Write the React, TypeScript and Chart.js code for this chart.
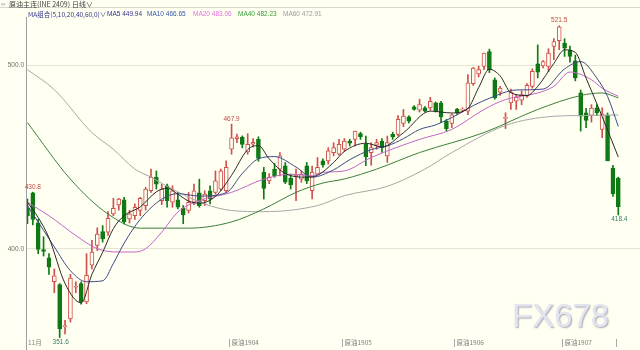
import React, { useEffect, useRef } from 'react';
import { Chart, registerables } from 'chart.js';

Chart.register(...registerables);

const BG = '#fffff2';
const UP = '#d0504c';
const DOWN = '#0f7a14';

// candle data (index 0..110)
const candleOpen = [
  422.2, 430.4, 414.1, 399.5, 395, 382, 380.5, 357.5, 361.7, 379,
  381, 371, 391, 401.8, 409.4, 409, 419, 423.9, 426.7, 416.3,
  418, 420.8, 423.5, 431.6, 438.9, 426.2, 434.3, 425.3, 426.7, 422,
  420.8, 425.3, 430.4, 426.2, 431.6, 430.7, 432.5, 431.6, 454.2, 460,
  460.9, 452.7, 457, 459.6, 441.6, 437, 443.4, 443.4, 445.2, 438.3,
  439.2, 437.9, 445.2, 431.6, 440.6, 447.9, 447.9, 452.4, 451.5, 454.2,
  458.7, 459.6, 462.7, 456.9, 452.4, 456.4, 458.7, 450.6, 462.3, 462.3,
  468.3, 471.9, 477.3, 475.5, 476.8, 476.8, 479.5, 479.5, 469.5, 468.3,
  476, 475.5, 475, 490, 495.3, 499.4, 507.5, 492.1, 485.3, 471,
  479.5, 480.4, 481, 483.1, 488.5, 500.8, 499.7, 499.4, 510.2, 513.4,
  512.1, 508.3, 502.4, 485, 474.1, 472.6, 476.8, 465, 472.7, 443.9, 438.5,
];
const candleHigh = [
  427.1, 430.8, 416, 406.5, 397.3, 389, 381, 361, 386, 382,
  382, 397.3, 404.5, 411.4, 412.6, 420.2, 427.5, 427.5, 428, 421,
  424.5, 428, 433.5, 443.4, 442.4, 435.2, 435.2, 434.3, 430.7, 423.5,
  430.7, 435.2, 437.9, 431.6, 434.3, 442.4, 443.4, 447.9, 467.9, 462.5,
  461.5, 462.7, 460, 461, 444.3, 441, 446.5, 452.4, 447, 440.6,
  443.4, 442.4, 447, 445, 449.7, 449, 455.1, 457.8, 459.6, 460,
  459.6, 464.1, 463.5, 461.4, 457.8, 459.6, 460, 461.4, 463.5, 472.5,
  475.9, 472.5, 478, 481.5, 477.5, 482.5, 480, 480.4, 470.5, 473.5,
  476.5, 476.8, 494.9, 498.8, 499.4, 506.6, 508.8, 493.1, 488.5, 474.1,
  487, 484, 486, 490, 498, 511.1, 502.5, 509, 514.5, 521.5,
  514.5, 510.5, 505.5, 486.5, 476.5, 478.5, 478.5, 476.8, 474, 445.5, 439,
];
const candleLow = [
  413.6, 413, 397.3, 396, 386, 376, 351.6, 353.5, 360, 376,
  369.7, 370, 389, 399, 403.6, 407.2, 418, 421, 413.5, 414,
  416, 418, 421, 430.7, 432.5, 424, 422.6, 422.6, 421.7, 413.6,
  419.5, 424, 422.6, 423.5, 424.4, 429.8, 431.6, 430.7, 451.5, 457.8,
  455, 451.5, 455.5, 447.7, 427.1, 435.5, 438.9, 439.7, 435.5, 432.5,
  426.2, 436.2, 435.5, 427.1, 440.6, 444.5, 446.1, 450.6, 451, 453,
  456, 456, 459.6, 445.2, 445.5, 454.2, 452.5, 447, 459.6, 461.5,
  466.5, 468.5, 475.5, 474.5, 474.5, 475.5, 474.5, 468.7, 464, 466,
  473, 474.5, 473, 489, 493.6, 497.6, 496, 481.5, 483.5, 465.5,
  475.9, 475.9, 478.5, 482.5, 487.5, 493.1, 498.5, 496.5, 503, 508.5,
  504.8, 501.7, 491.5, 464.1, 466, 469, 472.5, 460.5, 447.9, 428.5, 418.4,
];
const candleClose = [
  418, 415.9, 399.6, 398.5, 390, 385.2, 356.3, 358, 384, 379.5,
  371, 385.5, 398.2, 408, 405.4, 416.6, 422, 427.1, 414.8, 419,
  422.6, 427.5, 432.5, 438.9, 435.2, 432.5, 426.2, 431.6, 422.6, 418.4,
  425.3, 431.6, 423.5, 429.8, 427.1, 437, 442.4, 444.3, 460.5, 461,
  456.9, 456.9, 458, 449.2, 432.9, 438.9, 439.7, 450.6, 436.2, 434.7,
  440.1, 440.6, 437, 441.7, 444.3, 445.7, 453.3, 455.1, 456.9, 458.7,
  457.5, 464.1, 460.9, 450.2, 455.1, 457.8, 455.1, 457.8, 460.9, 470.5,
  472.3, 469.5, 475.9, 478.6, 475, 480.4, 475, 471.9, 465.4, 473,
  474.1, 475.9, 490.4, 498.5, 497.6, 506.6, 497.6, 482.2, 487.6, 471.4,
  485.3, 482.5, 484, 489, 496.7, 496.2, 502, 506.6, 512.9, 521,
  509.3, 504.8, 493.1, 472.2, 469.9, 476.7, 474.1, 473.5, 447.9, 429.8, 422.9,
];

// moving averages: [candle index, value]
const ma5 = [
  [0, 425.3], [2, 417], [4, 406], [7, 381], [10, 370.5], [12, 386], [14, 398], [16, 411],
  [18, 418], [21, 422.8], [24, 431], [26, 433], [28, 429.7], [30, 426], [32, 424.8],
  [35, 428.5], [38, 440], [41, 454], [43, 456.2], [45, 449], [48, 441], [52, 439],
  [54, 440], [57, 447], [59, 453], [63, 457.5], [66, 455.5], [70, 463.2], [75, 475],
  [79, 474], [82, 476.5], [84, 487.8], [86, 497.8], [88, 494.2], [90, 485], [93, 483.5],
  [95, 488.5], [98, 501], [100, 508.4], [102, 507], [104, 493], [107, 472], [110, 449.94],
];
const ma10 = [
  [0, 423.5], [3, 410], [5, 401], [8, 388], [11, 382], [14, 382.5], [16, 392], [18, 403],
  [21, 416], [25, 427], [28, 430], [32, 428.7], [37, 430.5], [40, 441], [43, 449],
  [46, 450.2], [50, 444.5], [53, 439], [57, 443], [60, 448.5], [64, 454], [67, 456],
  [70, 460], [73, 465], [76, 467.5], [80, 473], [83, 478], [86, 482], [91, 486.5],
  [96, 487], [100, 498], [103, 502], [106, 493], [108, 483], [110, 466.65],
];
const ma20 = [
  [0, 425.3], [4, 418], [9, 407.2], [13, 400], [17, 398.2], [20, 398.2], [22, 400],
  [25, 409], [28, 420], [32, 426.2], [38, 430.7], [44, 437.9], [49, 440.6], [53, 439.7],
  [55, 441.6], [59, 442.4], [64, 449.7], [73, 459.6], [79, 465], [85, 475.9], [89, 481.3],
  [95, 484.9], [98, 488.5], [101, 496.3], [105, 492.1], [107, 487.5], [110, 483.06],
];
const ma40 = [
  [0, 468.7], [8, 437.9], [15, 418.9], [21, 411.2], [30, 411.2], [38, 414.6], [44, 421.7],
  [50, 430.7], [55, 435.8], [59, 438], [65, 443.4], [73, 452.4], [85, 463.3], [95, 475.9],
  [103, 483.5], [107, 484.9], [110, 482.23],
];
const ma60 = [
  [0, 497.6], [5, 486.7], [12, 463.3], [16, 454.2], [20, 443.4], [23, 439], [26, 434],
  [33, 424.4], [38, 420.8], [44, 420.2], [54, 423.5], [59, 428.9], [67, 434], [74, 443.4],
  [79, 452.4], [89, 467.2], [98, 472.2], [103, 472.6], [110, 472.91],
];

const maNames = ['MA5', 'MA10', 'MA20', 'MA40', 'MA60'];
const maLast = ['449.94', '466.65', '483.06', '482.23', '472.91'];
const maLineColors = ['#2a2a2a', '#3d4a86', '#c266c8', '#3d7f3d', '#a8a8a8'];
const maTextColors = ['#34348a', '#3456a8', '#e070e0', '#3aa03a', '#9c9c9c'];

const yTickValues = [400, 500];
const monthStart = [38, 59, 80, 100, 110];
const monthLabels = ['原油1904', '原油1905', '原油1906', '原油1907', ''];
const highMarks = [1, 38, 99];
const lowMarks = [6, 110];

const FONT = '"Liberation Sans", "Noto Sans CJK SC", sans-serif';
const CJK = '"Noto Sans CJK SC", "Liberation Sans", sans-serif';

const decor = {
  id: 'decor',
  beforeDraw(chart: any) {
    const { ctx, width, height } = chart;
    ctx.save();
    ctx.fillStyle = BG;
    ctx.fillRect(0, 0, width, height);
    ctx.restore();
  },
  afterDraw(chart: any) {
    const { ctx, chartArea, scales } = chart;
    const xs = scales.x;
    const ys = scales.y;
    ctx.save();
    // header separator & axis line
    ctx.strokeStyle = '#d8d8cc';
    ctx.lineWidth = 1;
    ctx.beginPath();
    ctx.moveTo(0, 7.5);
    ctx.lineTo(640, 7.5);
    ctx.stroke();
    const ax = Math.round(chartArea.left) + 0.5;
    ctx.strokeStyle = '#a0a0a0';
    ctx.beginPath();
    ctx.moveTo(ax, 17);
    ctx.lineTo(ax, 350);
    ctx.stroke();

    // header row 1
    ctx.textBaseline = 'middle';
    ctx.textAlign = 'left';
    ctx.fillStyle = '#8a8aa0';
    ctx.font = `6px ${FONT}`;
    ctx.fillText('∞', 1, 4);
    ctx.fillStyle = '#404040';
    ctx.font = `7px ${CJK}`;
    ctx.fillText('原油主连(INE 2409)', 9, 4);
    ctx.fillText('日线∨', 72, 4);

    // header row 2 (MA legend)
    ctx.font = `6.5px ${CJK}`;
    ctx.fillStyle = '#34348a';
    ctx.fillText('MA组合(5,10,20,40,60,0)∨', 28, 14.5);
    const legX = [107, 147, 193, 238, 283];
    ctx.font = `6.5px ${FONT}`;
    maNames.forEach((n, k) => {
      ctx.fillStyle = maTextColors[k];
      ctx.fillText(`${n} ${maLast[k]}`, legX[k], 14.5);
    });

    // high / low marks
    ctx.font = `6.5px ${FONT}`;
    ctx.textAlign = 'center';
    ctx.textBaseline = 'bottom';
    ctx.fillStyle = '#c04a44';
    highMarks.forEach((i) => {
      const x = xs.getPixelForValue(i);
      const y = ys.getPixelForValue(candleHigh[i]);
      ctx.fillText(candleHigh[i].toFixed(1), x, y - 2);
    });
    ctx.textBaseline = 'top';
    ctx.fillStyle = '#3a7a6a';
    lowMarks.forEach((i) => {
      const x = xs.getPixelForValue(i);
      const y = ys.getPixelForValue(candleLow[i]);
      ctx.fillText(candleLow[i].toFixed(1), x + 1, y + 1);
    });

    // bottom month labels
    ctx.textAlign = 'left';
    ctx.textBaseline = 'middle';
    ctx.font = `6.5px ${CJK}`;
    ctx.fillStyle = '#808080';
    ctx.fillText('11月', 28, 343);
    ctx.strokeStyle = '#a8a8a8';
    monthStart.forEach((m, k) => {
      const x = Math.round(xs.getPixelForValue(m - 0.5)) + 0.5;
      ctx.beginPath();
      ctx.moveTo(x, 339);
      ctx.lineTo(x, 347);
      ctx.stroke();
      if (monthLabels[k]) ctx.fillText(monthLabels[k], x + 2, 343);
    });

    // watermark
    ctx.font = `33px ${FONT}`;
    ctx.textAlign = 'left';
    ctx.textBaseline = 'alphabetic';
    ctx.shadowColor = 'rgba(90,95,120,0.55)';
    ctx.shadowOffsetX = 1;
    ctx.shadowOffsetY = 1;
    ctx.shadowBlur = 1.5;
    ctx.fillStyle = '#e2e5ef';
    ctx.fillText('FX678', 512, 327);
    ctx.restore();
  },
};

export default function App() {
  const ref = useRef<HTMLCanvasElement | null>(null);
  useEffect(() => {
    if (!ref.current) return;
    const n = candleOpen.length;
    const idx = Array.from({ length: n }, (_, i) => i);
    const isUp = (i: number) => candleClose[i] >= candleOpen[i];
    const lineDs = [ma5, ma10, ma20, ma40, ma60].map((pts, k) => ({
      type: 'line' as const,
      label: maNames[k],
      data: pts.map(([x, y]) => ({ x, y })),
      borderColor: maLineColors[k],
      borderWidth: 1,
      pointRadius: 0,
      cubicInterpolationMode: 'monotone' as const,
      order: 0,
    }));
    const chart = new Chart(ref.current, {
      type: 'bar',
      data: {
        datasets: [
          ...lineDs,
          {
            type: 'bar',
            label: 'body',
            data: idx.map((i) => ({ x: i, y: [candleOpen[i], candleClose[i]] })),
            backgroundColor: idx.map((i) => (isUp(i) ? BG : DOWN)),
            borderColor: idx.map((i) => (isUp(i) ? UP : DOWN)),
            borderWidth: 1,
            borderSkipped: false,
            barThickness: 4,
            minBarLength: 1,
            grouped: false,
            order: 1,
          } as any,
          {
            type: 'bar',
            label: 'wick',
            data: idx.map((i) => ({ x: i, y: [candleLow[i], candleHigh[i]] })),
            backgroundColor: idx.map((i) => (isUp(i) ? UP : DOWN)),
            borderWidth: 0,
            barThickness: 1,
            grouped: false,
            order: 2,
          } as any,
        ],
      },
      options: {
        responsive: false,
        animation: false,
        devicePixelRatio: 1,
        layout: { padding: { top: 17, bottom: 4, left: 0, right: 0 } },
        plugins: { legend: { display: false }, tooltip: { enabled: false } },
        scales: {
          x: { type: 'linear', min: -0.27, max: 114.04, offset: false, display: false },
          y: {
            min: 348.0,
            max: 526.3,
            afterFit: (s: any) => {
              s.width = 26;
            },
            afterBuildTicks: (s: any) => {
              s.ticks = yTickValues.map((v) => ({ value: v }));
            },
            ticks: {
              font: { size: 6.5, family: 'Liberation Sans' },
              color: '#707070',
              padding: 2,
              callback: (v: any) => Number(v).toFixed(1),
            },
            grid: { color: '#e6e4d4', drawTicks: false },
            border: { display: false },
          },
        },
      } as any,
      plugins: [decor],
    });
    return () => chart.destroy();
  }, []);
  return (
    <div style={{ position: 'fixed', left: 0, top: 0, width: 640, height: 350, background: BG }}>
      <canvas ref={ref} width={640} height={350} style={{ display: 'block' }} />
    </div>
  );
}
